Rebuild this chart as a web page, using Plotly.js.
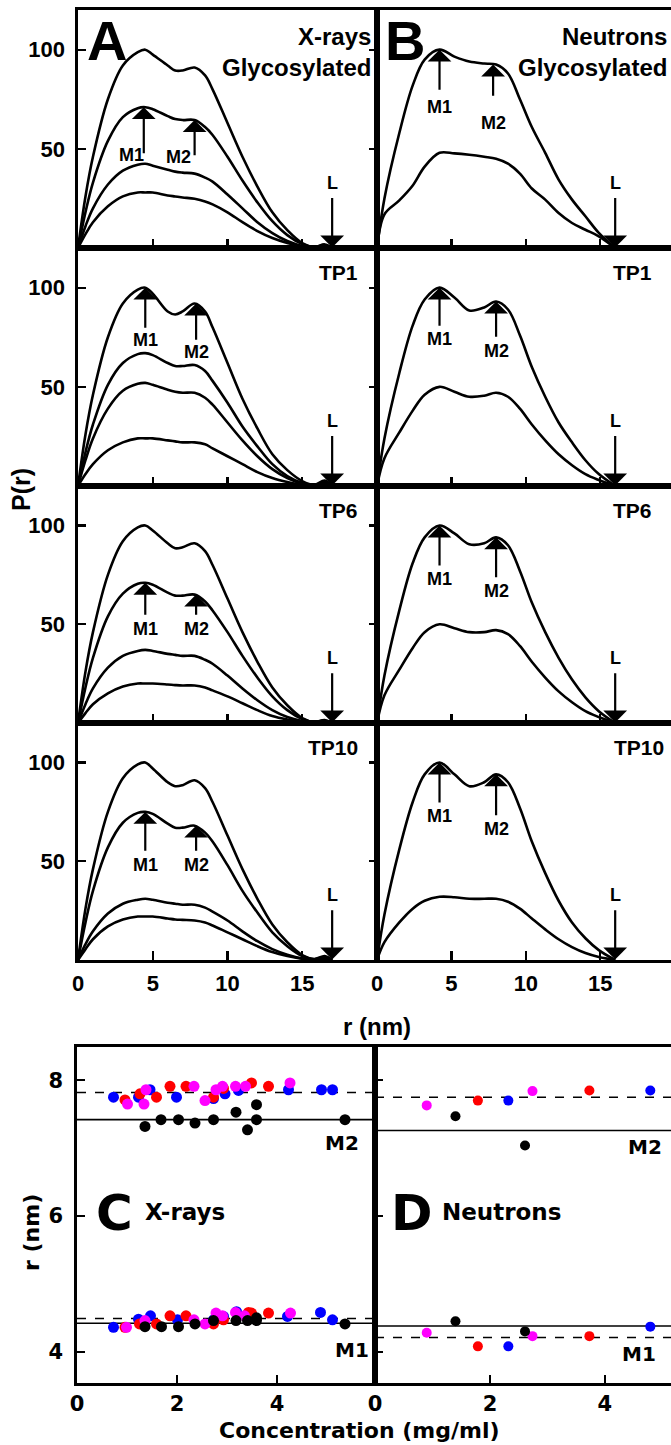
<!DOCTYPE html>
<html><head><meta charset="utf-8">
<script src="https://cdn.plot.ly/plotly-3.0.1.min.js"></script>
<style>html,body{margin:0;padding:0;background:#fff;overflow:hidden}</style>
</head><body><div id="chart" style="width:671px;height:1445px"></div>
<script>
// ---------------- DATA ----------------
// r grids (nm)
const rXray = [0,0.5,1,2,3,4,4.5,5,6,6.5,7,7.8,8.5,9,10,11,12,13,14,15,15.8,16.5,17];
const rNeut = [0,0.5,1.5,2.4,3.2,4.2,5.2,6.2,7.2,8,8.8,9.6,10.4,11.3,12.2,13.1,14,14.9,16];

// X-ray P(r) curves (4 per panel)
const xrayGly = [
  [0,26,46,75,92,98.7,100,97.5,92,89.5,89.5,91,87,80,63,46,31,18,9,2.5,0.5,1.8,0],
  [0,18,33,54,66,70.5,71,70,66.5,65,64.5,64.5,61,57,46,34,23,13.5,6.5,2,0.4,1.5,0],
  [0,11,20,32,39,42,42.5,41.5,39.5,38.5,38,37.5,35.5,33.5,27,20,13,7.5,3.5,1,0.2,1,0],
  [0,7,13,21,26,28,28,28,26.5,26,25.5,24.8,23.5,22,18,13,8.5,5,2.5,0.8,0.2,0.8,0]
];
const xrayTP1 = [
  [0,26,46,75,92,99,100,97,88,86.5,88,92,88,80,62,44,29,16,8,2.5,0.5,2.8,0],
  [0,17,31,51,62,66.5,67,66,62,60.5,60.5,61,58,53,42,30,20,11,5,1.5,0.3,2,0],
  [0,13,24,39,48,51.5,52,51,48.5,47.5,47,47,44.5,41,32,23,15,8.5,4,1.2,0.3,1.5,0],
  [0,6,11,18,22,24,24,24,23,22.5,22,22,21,19,15,11,7,4,2,0.6,0.2,0.8,0]
];
const xrayTP6 = [
  [0,26,46,75,92,99,100,97.5,91,88.5,89,91,87,80,63,46,31,18,9,2.5,0.5,1.5,0],
  [0,18,33,54,65.5,70.5,71,70,66,64.5,64.5,65,61.5,57,46,34,23,13.5,6.5,2,0.4,1.3,0],
  [0,9.5,17.5,28,34,36.5,37,36.5,35,34.5,34,34,32,30,24,17.5,11.5,6.5,3,1,0.2,0.8,0],
  [0,5,9.5,15,18.5,20,20,20,19.5,19.2,19,19,18,16.5,13.5,10,6.5,3.5,1.7,0.5,0.1,0.6,0]
];
const xrayTP10 = [
  [0,26,46,75,92,99,100,97,90,88,88.5,91,87,80,63,46,31,18,9,2.5,0.5,2,0],
  [0,19,35,57,69.5,74.5,75,74,69,67,67,68,64.5,60,48,35,24,14,7,2,0.4,1.5,0],
  [0,8,14.5,23.5,28.5,30.5,31,30.5,29,28.5,28,28,26.5,24.5,20,14.5,9.5,5.5,2.7,0.8,0.2,0.7,0],
  [0,5.5,10.5,17,20.5,22,22,22,21,20.5,20.3,20,19,17.5,14,10.5,7,4,2,0.6,0.1,0.5,0]
];
// Neutron P(r) curves (2 per panel)
const neutGly = [
  [0,25,58,82,95,100,96.5,94,93,92.5,88,75,61,48,34.5,24.4,16,7.6,0],
  [0,17,24,31.5,41,48,47.7,47,46,45,42.5,37.5,30,24.4,17.6,12.6,9.2,5.9,0]
];
const neutTP1 = [
  [0,24,57,81,94,100,95,88.5,90,93,89,76,60,45,32,22,13,6,0],
  [0,14,27,38,46,50,47.5,45,45.5,47,45,39,31,23,16,10.5,6,3,0]
];
const neutTP6 = [
  [0,24,57,81,94,100,96,90.5,91,94,90,77,61,46,33,22,13,6,0],
  [0,14,27,38,46,50,48,46,46,47,45,39,31,23,16,10.5,6,3,0]
];
const neutTP10 = [
  [0,23,56,80,94,100,94,88,90,94,90,77,60,44,30,19,11,5,0],
  [0,9,19,26,30,32,31.8,31,31,31,29.5,26,21,15.5,10.5,6.5,3.5,1.5,0]
];

// Peak markers per panel: [A1,B1,A2,B2,A3,B3,A4,B4]
const m1R    = [4.4,4.2,4.5,4.2,4.5,4.2,4.5,4.2];
const m1Tip  = [71,100,100,100,71,100,75,100];
const m1Tail = [47,79,79,80,54,79,54.5,79];
const m1LabR = [3.6,4.2,4.5,4.2,4.5,4.2,4.5,4.2];
const m1LabP = [47,71,73.5,74,47.5,73,48,73];
const m2R    = [7.8,7.8,7.9,8,7.9,8,7.9,8];
const m2Tip  = [64.5,92.5,92,93,65,94,68,94];
const m2Tail = [46,76,73,74.5,54,73,54.5,72.5];
const m2LabR = [6.7,7.8,7.9,8,7.9,8,7.9,8];
const m2LabP = [46,63,67.5,68,47.5,67,48,66.5];
const dMaxR  = [17,16,17,16,17,16,17,16];
const panelTags = ['', '', 'TP1', 'TP1', 'TP6', 'TP6', 'TP10', 'TP10'];
const xTickVals = [0,5,10,15];
const yTickVals = [50,100];

// Peak positions vs concentration (C: X-rays, D: Neutrons)
const cBlueConcM2 = [0.73,1.23,1.46,1.99,2.73,2.96,3.23,4.23,4.89,5.11];
const cBlueM2     = [7.75,7.75,7.86,7.75,7.73,7.80,7.85,7.86,7.86,7.86];
const cBlueConcM1 = [0.73,1.23,1.47,2.01,2.73,2.93,3.19,4.21,4.87,5.11];
const cBlueM1     = [4.36,4.48,4.53,4.47,4.47,4.52,4.59,4.52,4.58,4.47];
const cRedConcM2  = [0.96,1.26,1.59,1.86,2.18,2.73,2.93,3.49,3.83];
const cRedM2      = [7.71,7.80,7.75,7.91,7.91,7.75,7.88,7.96,7.91];
const cRedConcM1  = [0.96,1.25,1.59,1.86,2.18,2.73,2.93,3.43,3.49,3.83];
const cRedM1      = [4.36,4.41,4.41,4.53,4.53,4.41,4.47,4.58,4.57,4.57];
const cMagConcM2  = [1.01,1.34,1.38,2.34,2.56,2.78,2.91,3.17,3.37,4.26];
const cMagM2      = [7.65,7.65,7.86,7.91,7.70,7.86,7.91,7.91,7.91,7.96];
const cMagConcM1  = [0.99,1.36,2.34,2.56,2.78,2.91,3.17,3.35,4.27];
const cMagM1      = [4.36,4.46,4.47,4.41,4.57,4.53,4.58,4.53,4.57];
const cBlkConcM2  = [1.36,1.68,2.03,2.36,2.73,3.18,3.41,3.59,3.59,5.36];
const cBlkM2      = [7.32,7.42,7.42,7.37,7.42,7.53,7.27,7.64,7.42,7.42];
const cBlkConcM1  = [1.36,1.69,2.03,2.36,2.73,3.18,3.41,3.59,3.59,5.36];
const cBlkM1      = [4.37,4.37,4.37,4.41,4.46,4.46,4.46,4.50,4.46,4.41];
const dMagConc = [0.90,2.74], dMagM2 = [7.63,7.84], dMagM1 = [4.28,4.23];
const dBlkConc = [1.40,2.61], dBlkM2 = [7.47,7.04], dBlkM1 = [4.45,4.30];
const dRedConc = [1.79,3.73], dRedM2 = [7.70,7.85], dRedM1 = [4.08,4.23];
const dBluConc = [2.32,4.79], dBluM2 = [7.70,7.85], dBluM1 = [4.08,4.37];
// reference lines: [dashed, solid]
const cLinesM2 = [7.82,7.42], cLinesM1 = [4.49,4.42];
const dLinesM2 = [7.75,7.26], dLinesM1 = [4.21,4.38];

// ---------------- LAYOUT ----------------
const W = 671, H = 1445;
const px = x => x / W, py = y => 1 - y / H;
const AR = 'Liberation Sans, Arial, sans-serif';
const DJ = 'DejaVu Sans, sans-serif';
const fA = (s) => ({family: AR, size: s, color: '#000', weight: 'bold'});
const fD = (s) => ({family: DJ, size: s, color: '#000', weight: 'bold'});
const id = n => (n === 1 ? '' : String(n));

const layout = {
  width: W, height: H, margin: {l: 0, r: 0, t: 0, b: 0},
  showlegend: false, paper_bgcolor: '#fff', plot_bgcolor: 'rgba(0,0,0,0)',
  annotations: [], shapes: []
};
const traces = [];
const rows = [[10,248],[248,486],[486,723],[723,960]];
const colsX = [[78,377],[377,671]];
const xRanges = [[0,20],[0,19.75]];
const curveSets = [[xrayGly, neutGly],[xrayTP1, neutTP1],[xrayTP6, neutTP6],[xrayTP10, neutTP10]];

rows.forEach((row, i) => {
  [0,1].forEach(c => {
    const n = 2*i + c + 1;
    const k = n - 1;
    const xa = 'x' + id(n), ya = 'y' + id(n);
    layout['xaxis' + id(n)] = {
      domain: [px(colsX[c][0]), px(colsX[c][1])], range: xRanges[c], anchor: ya,
      showline: true, linewidth: 2.6, linecolor: '#000', mirror: true,
      ticks: 'inside', ticklen: 9, tickwidth: 2.2, tickcolor: '#000',
      tickvals: xTickVals, showticklabels: i === 3, tickfont: fA(22), ticklabelstandoff: 2,
      showgrid: false, zeroline: false, fixedrange: true
    };
    layout['yaxis' + id(n)] = {
      domain: [py(row[1]), py(row[0])], range: [0,120], anchor: xa,
      showline: true, linewidth: 2.6, linecolor: '#000', mirror: c === 0 ? 'ticks' : false,
      ticks: c === 0 ? 'inside' : '', ticklen: 8, tickwidth: 2.2, tickcolor: '#000',
      tickvals: yTickVals, showticklabels: c === 0, tickfont: fA(22), ticklabelstandoff: 6,
      showgrid: false, zeroline: false, fixedrange: true
    };
    const curves = curveSets[i][c];
    const rr = c === 0 ? rXray : rNeut;
    curves.forEach(cv => traces.push({
      type: 'scatter', mode: 'lines', x: rr, y: cv, xaxis: xa, yaxis: ya,
      line: {color: '#000', width: 2.6, shape: 'spline', smoothing: 1}, hoverinfo: 'skip'
    }));
    const arrow = (r, tip, tail) => ({
      xref: xa, yref: ya, axref: xa, ayref: ya, x: r, y: tip, ax: r, ay: tail,
      text: '', showarrow: true, arrowhead: 1, arrowsize: 1.8, arrowwidth: 2.2,
      arrowcolor: '#000', standoff: 0, startstandoff: 0
    });
    const label = (r, p, t) => ({xref: xa, yref: ya, x: r, y: p, text: t, showarrow: false,
      font: fA(18), xanchor: 'center', yanchor: 'middle'});
    layout.annotations.push(arrow(m1R[k], m1Tip[k], m1Tail[k]));
    layout.annotations.push(arrow(m2R[k], m2Tip[k], m2Tail[k]));
    layout.annotations.push(label(m1LabR[k], m1LabP[k], 'M1'));
    layout.annotations.push(label(m2LabR[k], m2LabP[k], 'M2'));
    layout.annotations.push(arrow(dMaxR[k], 0.3, 26));
    layout.annotations.push(label(dMaxR[k], 33, 'L'));
    if (panelTags[k]) {
      layout.annotations.push({xref: 'paper', yref: 'paper',
        x: px(c === 0 ? 360 : (i === 3 ? 666 : 654)), y: py(row[0] + 24),
        text: panelTags[k], showarrow: false, font: fA(21), xanchor: 'right', yanchor: 'middle'});
    }
  });
});

// top panel headings
const paperText = (x, y, t, f, xa) => ({xref: 'paper', yref: 'paper', x: px(x), y: py(y),
  text: t, showarrow: false, font: f, xanchor: xa || 'center', yanchor: 'middle'});
layout.annotations.push(paperText(107, 41, 'A', fA(56)));
layout.annotations.push(paperText(373, 37, 'X-rays', fA(24), 'right'));
layout.annotations.push(paperText(373, 67, 'Glycosylated', fA(24), 'right'));
layout.annotations.push(paperText(405, 41, 'B', fA(56)));
layout.annotations.push(paperText(669, 37, 'Neutrons', fA(24), 'right'));
layout.annotations.push(paperText(669, 67, 'Glycosylated', fA(24), 'right'));
layout.annotations.push({xref: 'paper', yref: 'paper', x: px(21), y: py(490), text: 'P(r)',
  showarrow: false, font: fA(25), textangle: -90, xanchor: 'center', yanchor: 'middle'});
layout.annotations.push(paperText(377, 1026, 'r (nm)', fA(24)));

// bottom panels C (9) and D (10)
const botY = [1047, 1383];
const botCols = [[77,375],[375,671]];
const botRanges = [[0,5.96],[0,5.15]];
[0,1].forEach(c => {
  const n = 9 + c;
  const xa = 'x' + n, ya = 'y' + n;
  layout['xaxis' + n] = {
    domain: [px(botCols[c][0]), px(botCols[c][1])], range: botRanges[c], anchor: ya,
    showline: true, linewidth: 2.6, linecolor: '#000', mirror: true,
    ticks: 'inside', ticklen: 8, tickwidth: 2.2, tickcolor: '#000',
    tickvals: [0,2,4], tickfont: fD(21), ticklabelstandoff: 0,
    showgrid: false, zeroline: false, fixedrange: true
  };
  layout['yaxis' + n] = {
    domain: [py(botY[1]), py(botY[0])], range: [3.54,8.49], anchor: xa,
    showline: true, linewidth: 2.6, linecolor: '#000', mirror: c === 0,
    ticks: 'inside', ticklen: 8, tickwidth: 2.2, tickcolor: '#000',
    tickvals: [4,6,8], showticklabels: c === 0, tickfont: fD(21), ticklabelstandoff: 7,
    showgrid: false, zeroline: false, fixedrange: true
  };
  const lines = c === 0 ? [cLinesM2, cLinesM1] : [dLinesM2, dLinesM1];
  lines.forEach(pair => {
    traces.push({type: 'scatter', mode: 'lines', x: botRanges[c], y: [pair[0], pair[0]],
      xaxis: xa, yaxis: ya, line: {color: '#000', width: 1.6, dash: 'dash'}, hoverinfo: 'skip'});
    traces.push({type: 'scatter', mode: 'lines', x: botRanges[c], y: [pair[1], pair[1]],
      xaxis: xa, yaxis: ya, line: {color: '#000', width: 1.6}, hoverinfo: 'skip'});
  });
});
const dots = (x, y, col, n, sz) => traces.push({type: 'scatter', mode: 'markers', x: x, y: y,
  xaxis: 'x' + n, yaxis: 'y' + n, marker: {color: col, size: sz, line: {width: 0}}, hoverinfo: 'skip'});
const BLUE = '#0000ff', RED = '#ff0000', MAG = '#ff00ff', BLK = '#000000';
dots(cBlueConcM2, cBlueM2, BLUE, 9, 11); dots(cBlueConcM1, cBlueM1, BLUE, 9, 11);
dots(cRedConcM2, cRedM2, RED, 9, 11);   dots(cRedConcM1, cRedM1, RED, 9, 11);
dots(cMagConcM2, cMagM2, MAG, 9, 11);   dots(cMagConcM1, cMagM1, MAG, 9, 11);
dots(cBlkConcM2, cBlkM2, BLK, 9, 11);   dots(cBlkConcM1, cBlkM1, BLK, 9, 11);
dots(dMagConc, dMagM2, MAG, 10, 10); dots(dMagConc, dMagM1, MAG, 10, 10);
dots(dBlkConc, dBlkM2, BLK, 10, 10); dots(dBlkConc, dBlkM1, BLK, 10, 10);
dots(dRedConc, dRedM2, RED, 10, 10); dots(dRedConc, dRedM1, RED, 10, 10);
dots(dBluConc, dBluM2, BLUE, 10, 10); dots(dBluConc, dBluM1, BLUE, 10, 10);

layout.annotations.push(paperText(114, 1213, 'C', fD(50)));
layout.annotations.push(paperText(143, 1212, 'X-rays', fD(23), 'left'));
layout.annotations.push(paperText(412, 1213, 'D', fD(50)));
layout.annotations.push(paperText(440, 1212, 'Neutrons', fD(23), 'left'));
layout.annotations.push(paperText(342, 1143, 'M2', fD(20)));
layout.annotations.push(paperText(645, 1147, 'M2', fD(20)));
layout.annotations.push(paperText(352, 1350, 'M1', fD(20)));
layout.annotations.push(paperText(639, 1354, 'M1', fD(20)));
layout.annotations.push({xref: 'paper', yref: 'paper', x: px(31), y: py(1233), text: 'r (nm)',
  showarrow: false, font: fD(22), textangle: -90, xanchor: 'center', yanchor: 'middle'});
layout.annotations.push(paperText(359, 1430, 'Concentration (mg/ml)', fD(22)));

Plotly.newPlot('chart', traces, layout, {staticPlot: true, displayModeBar: false});
</script></body></html>
